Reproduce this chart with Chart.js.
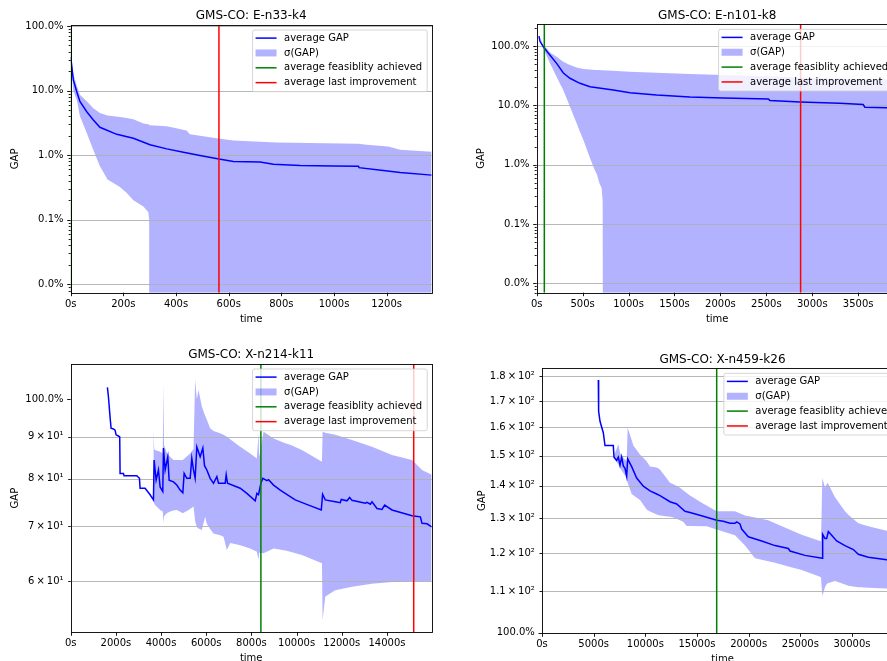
<!DOCTYPE html>
<html>
<head>
<meta charset="utf-8">
<title>GMS-CO gap over time</title>
<script src="https://cdn.jsdelivr.net/npm/chart.js@4"></script>
<style>
  body { margin: 0; width: 887px; height: 661px; overflow: hidden; background: #fff; position: relative; }
  .panel { position: absolute; }
</style>
</head>
<body>
<div class="panel" style="left:0;top:0"><canvas id="c1" width="440" height="330"></canvas></div>
<div class="panel" style="left:440px;top:0"><canvas id="c2" width="470" height="330"></canvas></div>
<div class="panel" style="left:0;top:330px"><canvas id="c3" width="440" height="331"></canvas></div>
<div class="panel" style="left:440px;top:330px"><canvas id="c4" width="470" height="331"></canvas></div>
<script>
// --- E-n33-k4 ---
const p1Time = [0, 10, 23, 35, 61, 86, 111, 175, 238, 301, 365, 428, 491, 563, 618, 719, 770, 871, 998, 1093, 1095, 1187, 1251, 1371];
const p1Mean = [33.5, 14.6, 9.6, 6.8, 4.7, 3.5, 2.7, 2.1, 1.83, 1.45, 1.25, 1.11, 0.99, 0.87, 0.80, 0.78, 0.72, 0.69, 0.68, 0.67, 0.64, 0.58, 0.54, 0.49];
const p1BandTime = [0, 10, 23, 35, 61, 86, 111, 140, 187, 213, 238, 276, 295, 298, 300, 365, 440, 453, 554, 618, 782, 1093, 1124, 1206, 1251, 1371];
const p1Upper = [33.5, 18, 12, 8.6, 6.8, 5.3, 4.5, 4.1, 3.9, 3.75, 3.6, 3.1, 3.0, 2.95, 2.9, 2.8, 2.4, 2.1, 1.83, 1.69, 1.57, 1.5, 1.45, 1.36, 1.21, 1.13];
// lower edge hits zero after ~300s (drawn below the axis)
const p1Lower = [33.5, 10, 7.2, 4.0, 2.2, 1.2, 0.67, 0.42, 0.32, 0.26, 0.2, 0.16, 0.13, 0.1, 1e-4, 1e-4, 1e-4, 1e-4, 1e-4, 1e-4, 1e-4, 1e-4, 1e-4, 1e-4, 1e-4, 1e-4];
const p1Feasible = 2, p1LastImprovement = 563;
const p1XTicks = [0, 200, 400, 600, 800, 1000, 1200];
const p1YTicks = [0.01, 0.1, 1, 10, 100];
const p1YLabels = ['0.0%', '0.1%', '1.0%', '10.0%', '100.0%'];

// --- E-n101-k8 ---
const p2Time = [25, 36, 72, 145, 217, 290, 362, 471, 580, 834, 1015, 1306, 1668, 2031, 2521, 2539, 2865, 3300, 3554, 3573, 3930];
const p2Mean = [147, 120, 97, 70, 51, 35, 28.6, 23.5, 20.6, 18.2, 16.3, 14.9, 13.8, 13.3, 12.8, 12.1, 11.4, 10.8, 10.3, 9.3, 9.0];
const p2BandTime = [25, 72, 109, 145, 217, 290, 362, 435, 471, 508, 580, 634, 653, 680, 707, 718, 722, 1015, 1668, 2500, 3000, 3930];
const p2Upper = [147, 104, 91.5, 78, 66, 54.4, 47.8, 43.5, 42, 41, 40, 39.5, 39.4, 39.2, 39, 39, 39, 36.9, 33.7, 31, 29, 27];
const p2Lower = [147, 91, 68, 51, 30, 18, 9.5, 5.0, 3.6, 2.6, 1.3, 0.8, 0.7, 0.5, 0.4, 0.25, 1e-4, 1e-4, 1e-4, 1e-4, 1e-4, 1e-4];
const p2Feasible = 83, p2LastImprovement = 2873;
const p2XTicks = [0, 500, 1000, 1500, 2000, 2500, 3000, 3500];
const p2YTicks = [0.01, 0.1, 1, 10, 100];
const p2YLabels = ['0.0%', '0.1%', '1.0%', '10.0%', '100.0%'];

// --- X-n214-k11 ---
const p3Time = [1625, 1670, 1743, 1787, 1890, 1964, 2009, 2112, 2170, 2186, 2334, 2364, 2925, 3043, 3072, 3294, 3515, 3663, 3692, 3781,
  3884, 3958, 4076, 4106, 4180, 4298, 4357, 4549, 4697, 4844, 4963, 5022, 5140, 5288, 5361, 5435, 5509, 5583, 5731, 5849,
  5923, 6026, 6173, 6321, 6469, 6543, 6838, 6883, 6942, 7503, 7798, 8168, 8242, 8315, 8419, 8507, 8685, 8759, 8980, 9275,
  9718, 9940, 10531, 11092, 11151, 11269, 11713, 11934, 11978, 12229, 12348, 12451, 13042, 13116, 13264, 13337, 13559, 13780, 13898, 14223,
  15109, 15478, 15552, 15774, 15980];
const p3Mean = [103.4, 100.7, 95.1, 92.2, 92, 91.7, 90.5, 90.2, 90, 81.2, 81.2, 80.7, 80.7, 80.1, 77.9, 77.9, 76.5, 75.4, 84.3, 79.7,
  82.0, 78.2, 77.2, 87.2, 82.0, 85.1, 79.7, 79.3, 78.6, 77.5, 76.9, 81.2, 80.1, 80.1, 84.7, 82.0, 80.1, 87.5, 85.1, 87.2,
  83, 82.0, 80.1, 79.0, 80.5, 79.0, 79.0, 80.9, 79.0, 77.9, 76.8, 75.2, 76.8, 76.5, 79.0, 80.1, 79.6, 79.8, 78.6, 77.5,
  76.1, 75.4, 74.3, 73.3, 76.6, 75.4, 75.0, 74.8, 75.5, 75.2, 75.9, 75.3, 74.7, 74.9, 74.5, 75.0, 73.6, 73.4, 74.3, 73.3,
  72.1, 71.9, 70.6, 70.5, 69.9];
const p3BandTime = [3655, 3663, 3700, 3958, 4076, 4106, 4130, 4254, 4401, 4549, 4697, 4963, 5288, 5435, 5509, 5583, 5657, 5805, 5952, 6026,
  6173, 6321, 6617, 6765, 6912, 7060, 7503, 7946, 8241, 8315, 8340, 8537, 8980, 9497, 9718, 10236, 11122, 11151, 11269, 11712,
  12451, 13337, 14223, 15109, 15552, 15980];
const p3Upper = [76, 91.7, 86.8, 86.3, 85.9, 104.6, 88, 86, 85.1, 84.3, 84.3, 84.3, 85.9, 87, 105.6, 100, 102.6, 98, 95.5, 94.4,
  92.2, 91.5, 90.9, 90.5, 90, 89.4, 87.5, 85.9, 84.7, 90.9, 85, 91.3, 89.6, 88.4, 88.0, 86.7, 83.9, 91.3, 91, 90.5,
  89.2, 87.5, 85.5, 84.3, 82.0, 80.9];
const p3Lower = [75, 75.4, 74.5, 73.3, 73, 70.6, 72, 72.6, 73, 73.2, 73.3, 72.6, 73.5, 74.0, 71, 69.9, 69.6, 69.3, 71.9, 70.5,
  69.5, 68.6, 68.3, 68.0, 65.5, 66.8, 66.4, 65.8, 65.2, 63.7, 65, 64.9, 65.8, 65.4, 65.2, 64.6, 63.1, 53.8, 57.5, 58.5,
  59.1, 59.6, 59.9, 60, 60, 60];
const p3Feasible = 8419, p3LastImprovement = 15184;
const p3XTicks = [0, 2000, 4000, 6000, 8000, 10000, 12000, 14000];
const p3YTicks = [60, 70, 80, 90, 100];
const p3YLabels = ['6\u2009×\u200910¹', '7\u2009×\u200910¹', '8\u2009×\u200910¹', '9\u2009×\u200910¹', '100.0%'];

// --- X-n459-k26 ---
const p4Time = [5450, 5480, 5613, 5933, 6094, 6900, 6968, 7226, 7387, 7548, 7710, 7871, 8032, 8194, 8290, 8677, 9161, 9806, 10452, 11097,
  11419, 12387, 13032, 13839, 14323, 15613, 16903, 17548, 18194, 18677, 18838, 19161, 19322, 19967, 21258, 22548, 23839, 24000, 25452, 27129,
  27161, 27387, 27548, 27710, 28032, 28516, 29323, 30129, 30613, 31581, 33355, 35000];
const p4Mean = [178.4, 166, 162.3, 158.1, 153.5, 153.5, 149.5, 148.4, 149.5, 146.8, 149.5, 146.5, 145.7, 143.1, 148.9, 146.3, 142.5, 139.9, 138.4, 137.4,
  136.9, 135.0, 134.3, 132.1, 131.7, 130.6, 129.4, 129.1, 128.5, 128.5, 128.9, 128.3, 126.8, 124.6, 123.4, 122.1, 121.3, 120.6, 119.4, 118.6,
  125.3, 124.1, 124.1, 126.1, 125.0, 123.4, 122.1, 121, 119.7, 118.9, 118.2, 118.0];
const p4BandTime = [6968, 7387, 7548, 7710, 8194, 8290, 8677, 8839, 9484, 10129, 10452, 11097, 11419, 12387, 12710, 13355, 13678, 14000, 14323, 15613,
  15936, 16903, 18677, 19645, 20613, 21903, 22548, 23839, 25129, 26904, 26999, 27129, 27387, 27549, 27645, 28355, 29323, 29645, 30613, 30936,
  31581, 33355, 35000];
const p4Upper = [150, 154.0, 151, 150, 148, 159.9, 155.5, 153.5, 150.4, 148.1, 146.3, 146, 145.3, 141.0, 140.5, 139.4, 138.5, 137.7, 136.9, 134.4,
  133.8, 132.1, 132.1, 130.8, 130.2, 129.4, 128.5, 126.8, 125.2, 123.4, 123.3, 142.5, 139.4, 140.5, 141.0, 136.4, 132.1, 131, 128.5, 128.2,
  127.6, 126.3, 126];
const p4Lower = [149, 147, 146, 145, 142.5, 141, 137.4, 137, 135.5, 132.6, 132, 131.1, 130.8, 130.4, 130.2, 129.4, 128.9, 127.7, 127.7, 127.6,
  127.6, 126.7, 125.0, 122.1, 118.6, 117.8, 117.4, 116.4, 115.5, 113.7, 113.6, 108.8, 111, 111.8, 112, 112.6, 111.7, 111.4, 111.0, 111.0,
  110.9, 110.7, 110.5];
const p4Feasible = 16904, p4LastImprovement = 35600;
const p4XTicks = [0, 5000, 10000, 15000, 20000, 25000, 30000];
const p4YTicks = [100, 110, 120, 130, 140, 150, 160, 170, 180];
const p4YLabels = ['100.0%', '1.1\u2009×\u200910²', '1.2\u2009×\u200910²', '1.3\u2009×\u200910²', '1.4\u2009×\u200910²',
  '1.5\u2009×\u200910²', '1.6\u2009×\u200910²', '1.7\u2009×\u200910²', '1.8\u2009×\u200910²'];

const legendLabels = ['average GAP', 'σ(GAP)', 'average feasiblity achieved', 'average last improvement'];

Chart.defaults.font.family = '"DejaVu Sans", sans-serif';
Chart.defaults.font.size = 10;
Chart.defaults.color = '#000';

const BLUE = '#0000ff', BAND = 'rgba(0,0,255,0.3)', GREEN = '#008000', RED = '#ff0000';
const FONT = '"DejaVu Sans", sans-serif';

function pts(xs, ys) {
  return xs.map((x, i) => ({ x: x, y: ys[i] }));
}

function minorTicks(lo, hi) {
  const out = [];
  for (let k = Math.floor(Math.log10(lo)); k <= Math.ceil(Math.log10(hi)); k++) {
    for (let m = 2; m <= 9; m++) {
      const v = m * Math.pow(10, k);
      if (v >= lo && v <= hi) out.push(v);
    }
  }
  return out;
}

function isDecade(v) {
  return Math.abs(Math.log10(v) - Math.round(Math.log10(v))) < 1e-9;
}

// grid, frame, tick marks, legend, title and axis labels (matplotlib look)
function decorations(p) {
  return {
    id: 'decor',
    beforeDatasetsDraw(chart) {
      const { ctx, chartArea: a } = chart;
      const y = chart.scales.y;
      ctx.save();
      ctx.strokeStyle = '#b0b0b0';
      ctx.lineWidth = 0.9;
      p.yGrid.forEach(v => {
        const py = Math.round(y.getPixelForValue(v)) + 0.5;
        ctx.beginPath();
        ctx.moveTo(a.left, py);
        ctx.lineTo(a.right, py);
        ctx.stroke();
      });
      ctx.restore();
    },
    afterDatasetsDraw(chart) {
      const { ctx, chartArea: a } = chart;
      const x = chart.scales.x, y = chart.scales.y;
      ctx.save();
      // spines
      ctx.strokeStyle = '#000';
      ctx.lineWidth = 0.9;
      ctx.strokeRect(Math.round(a.left) + 0.5, Math.round(a.top) + 0.5,
        Math.round(a.right) - Math.round(a.left), Math.round(a.bottom) - Math.round(a.top));
      // tick marks
      ctx.beginPath();
      p.xTicks.forEach(v => {
        const px = Math.round(x.getPixelForValue(v)) + 0.5;
        ctx.moveTo(px, a.bottom);
        ctx.lineTo(px, a.bottom + 3.5);
      });
      p.yTicks.forEach(v => {
        const py = Math.round(y.getPixelForValue(v)) + 0.5;
        ctx.moveTo(a.left, py);
        ctx.lineTo(a.left - (isDecade(v) ? 3.5 : 2.5), py);
      });
      p.yMinor.forEach(v => {
        const py = Math.round(y.getPixelForValue(v)) + 0.5;
        ctx.moveTo(a.left, py);
        ctx.lineTo(a.left - 2, py);
      });
      ctx.stroke();

      // legend, upper right
      ctx.font = '10px ' + FONT;
      const tw = Math.max(...legendLabels.map(l => ctx.measureText(l).width));
      const w = 32 + tw + 4.5, h = 61.7;
      const bx = a.right - 5 - w, by = a.top + 4.5;
      ctx.beginPath();
      ctx.roundRect(bx + 0.5, by + 0.5, w, h, 2);
      ctx.fillStyle = 'rgba(255,255,255,0.8)';
      ctx.fill();
      ctx.strokeStyle = 'rgba(204,204,204,0.8)';
      ctx.lineWidth = 1;
      ctx.stroke();
      const handleColors = [BLUE, null, GREEN, RED];
      legendLabels.forEach((label, i) => {
        const ry = by + 8.6 + i * 14.85;
        if (handleColors[i]) {
          ctx.strokeStyle = handleColors[i];
          ctx.lineWidth = 1.5;
          ctx.beginPath();
          ctx.moveTo(bx + 3.5, ry);
          ctx.lineTo(bx + 24.5, ry);
          ctx.stroke();
        } else {
          ctx.fillStyle = BAND;
          ctx.fillRect(bx + 3.5, ry - 3.5, 21, 7);
        }
        ctx.fillStyle = '#000';
        ctx.textAlign = 'left';
        ctx.textBaseline = 'middle';
        ctx.fillText(label, bx + 32, ry);
      });
      ctx.restore();
    },
    afterDraw(chart) {
      const { ctx, chartArea: a } = chart;
      const cx = (a.left + a.right) / 2;
      ctx.save();
      ctx.fillStyle = '#000';
      ctx.textAlign = 'center';
      ctx.textBaseline = 'alphabetic';
      ctx.font = '12px ' + FONT;
      ctx.fillText(p.title, cx, a.top - 5.8);
      ctx.font = '10px ' + FONT;
      ctx.fillText('time', cx, a.bottom + 29);
      ctx.translate(a.left - p.yLabelGap, (a.top + a.bottom) / 2);
      ctx.rotate(-Math.PI / 2);
      ctx.textBaseline = 'middle';
      ctx.fillText('GAP', 0, 0);
      ctx.restore();
    }
  };
}

function makePanel(id, p) {
  const canvas = document.getElementById(id);
  const W = canvas.width, H = canvas.height;
  const [yLo, yHi] = p.yRange;
  return new Chart(canvas, {
    type: 'line',
    data: {
      datasets: [
        { data: pts(p.bandTime, p.upper), fill: 1, backgroundColor: BAND, borderColor: 'rgba(0,0,0,0)', borderWidth: 1, pointRadius: 0, order: 10 },
        { data: pts(p.bandTime, p.lower), fill: false, borderColor: 'rgba(0,0,0,0)', borderWidth: 1, pointRadius: 0, order: 9 },
        { data: pts(p.time, p.mean), fill: false, borderColor: BLUE, borderWidth: 1.5, pointRadius: 0, order: 3 },
        { data: [{ x: p.feasible, y: yLo }, { x: p.feasible, y: yHi }], fill: false, borderColor: GREEN, borderWidth: 1.5, pointRadius: 0, order: 2 },
        { data: [{ x: p.lastImp, y: yLo }, { x: p.lastImp, y: yHi }], fill: false, borderColor: RED, borderWidth: 1.5, pointRadius: 0, order: 1 }
      ]
    },
    options: {
      responsive: false,
      animation: false,
      events: [],
      layout: {
        autoPadding: false,
        padding: { left: 0, top: p.area[1], right: W - p.area[2], bottom: 0 }
      },
      elements: { line: { tension: 0 } },
      plugins: {
        legend: { display: false },
        tooltip: { enabled: false },
        filler: { drawTime: 'beforeDatasetsDraw' }
      },
      scales: {
        x: {
          type: 'linear',
          min: p.xRange[0],
          max: p.xRange[1],
          bounds: 'data',
          grid: { display: false, drawTicks: false },
          border: { display: false },
          ticks: { padding: 5.3, autoSkip: false, maxRotation: 0, callback: v => v + 's' },
          afterBuildTicks: ax => { ax.ticks = p.xTicks.map(v => ({ value: v })); },
          afterFit: ax => { ax.height = H - p.area[3]; }
        },
        y: {
          type: 'logarithmic',
          min: yLo,
          max: yHi,
          bounds: 'data',
          grid: { display: false, drawTicks: false },
          border: { display: false },
          ticks: { padding: 7.2, autoSkip: false, callback: (v, i) => p.yLabels[i] },
          afterBuildTicks: ax => { ax.ticks = p.yTicks.map(v => ({ value: v })); },
          afterFit: ax => { ax.width = p.area[0]; }
        }
      }
    },
    plugins: [decorations(p)]
  });
}

makePanel('c1', {
  title: 'GMS-CO: E-n33-k4', area: [70.7, 25, 431.7, 292.7], yLabelGap: 55,
  xRange: [0, 1371], yRange: [0.0074, 103.6],
  time: p1Time, mean: p1Mean, bandTime: p1BandTime, upper: p1Upper, lower: p1Lower,
  feasible: p1Feasible, lastImp: p1LastImprovement,
  xTicks: p1XTicks, yTicks: p1YTicks, yLabels: p1YLabels, yGrid: p1YTicks, yMinor: minorTicks(0.0074, 103.6)
});

makePanel('c2', {
  title: 'GMS-CO: E-n101-k8', area: [96.7, 24.3, 457.7, 292.7], yLabelGap: 55,
  xRange: [0, 3930], yRange: [0.00695, 232],
  time: p2Time, mean: p2Mean, bandTime: p2BandTime, upper: p2Upper, lower: p2Lower,
  feasible: p2Feasible, lastImp: p2LastImprovement,
  xTicks: p2XTicks, yTicks: p2YTicks, yLabels: p2YLabels, yGrid: p2YTicks, yMinor: minorTicks(0.00695, 232)
});

makePanel('c3', {
  title: 'GMS-CO: X-n214-k11', area: [70.7, 34, 431.7, 302.3], yLabelGap: 55,
  xRange: [0, 15980], yRange: [52.0, 110.4],
  time: p3Time, mean: p3Mean, bandTime: p3BandTime, upper: p3Upper, lower: p3Lower,
  feasible: p3Feasible, lastImp: p3LastImprovement,
  xTicks: p3XTicks, yTicks: p3YTicks, yLabels: p3YLabels, yGrid: [60, 70, 80, 90], yMinor: []
});

makePanel('c4', {
  title: 'GMS-CO: X-n459-k26', area: [102, 38.3, 463, 303.3], yLabelGap: 60,
  xRange: [0, 34935], yRange: [99.9, 183.2],
  time: p4Time, mean: p4Mean, bandTime: p4BandTime, upper: p4Upper, lower: p4Lower,
  feasible: p4Feasible, lastImp: p4LastImprovement,
  xTicks: p4XTicks, yTicks: p4YTicks, yLabels: p4YLabels, yGrid: [110, 120, 130, 140, 150, 160, 170, 180], yMinor: []
});
</script>
</body>
</html>
